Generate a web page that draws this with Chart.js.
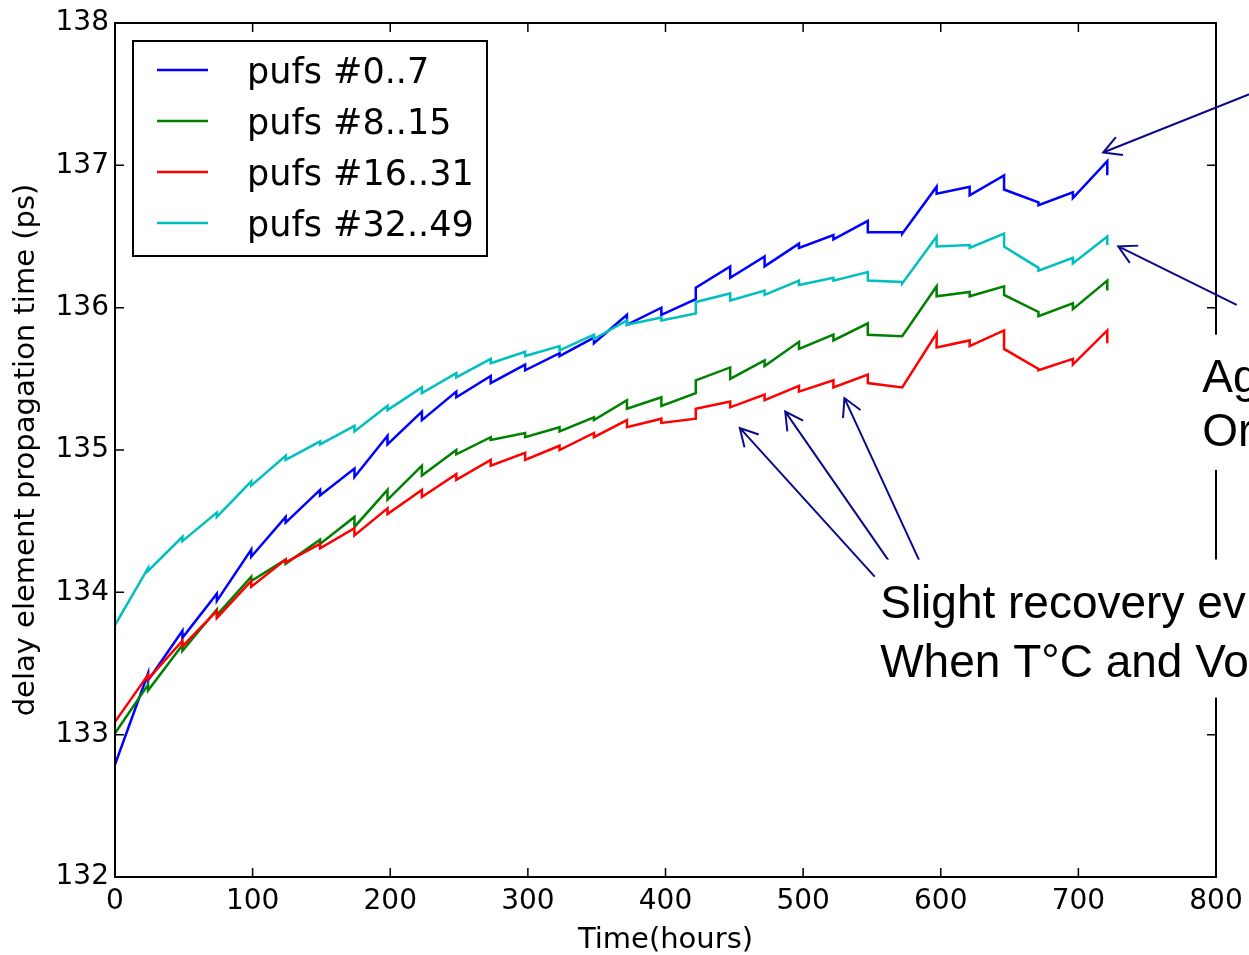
<!DOCTYPE html>
<html>
  <head>
    <title>Delay element ageing</title>
    <script src="https://cdn.jsdelivr.net/npm/chart.js@4.4.0/dist/chart.umd.min.js"></script>
    <style>
      body { margin: 0; background: #fff; }
      canvas { display: block; }
    </style>
  </head>
  <body>
    <canvas id="myChart" width="1249" height="955"></canvas>
    <script>
      // measurement times (hours); at each one the value drops slightly (recovery)
      const hours = [0, 24, 49, 74, 99, 124, 149, 174, 198, 223, 248, 273, 298, 323, 348, 372, 397, 422, 447, 472, 497, 522, 547, 572, 597, 621, 646, 671, 696, 721];

      const labels = ['pufs #0..7', 'pufs #8..15', 'pufs #16..31', 'pufs #32..49'];
      const colors = ['#0000ff', '#008000', '#ff0000', '#00bfbf'];

      // value reached just before each time, and value just after the step
      const pufs0Peak = [132.79, 133.43, 133.73, 133.99, 134.30, 134.53, 134.72, 134.87, 135.10, 135.27, 135.41, 135.52, 135.60, 135.68, 135.79, 135.95, 136.00, 136.06, 136.29, 136.36, 136.45, 136.51, 136.61, 136.53, 136.85, 136.85, 136.93, 136.74, 136.81, 137.03];
      const pufs0Drop = [132.79, 133.38, 133.68, 133.94, 134.25, 134.49, 134.68, 134.81, 135.04, 135.21, 135.37, 135.47, 135.56, 135.66, 135.75, 135.88, 135.95, 136.14, 136.21, 136.29, 136.42, 136.48, 136.53, 136.52, 136.80, 136.79, 136.83, 136.72, 136.77, 136.93];

      const pufs8Peak = [133.01, 133.35, 133.63, 133.88, 134.11, 134.23, 134.37, 134.53, 134.72, 134.89, 135.00, 135.09, 135.12, 135.16, 135.23, 135.35, 135.37, 135.40, 135.58, 135.63, 135.76, 135.81, 135.89, 135.80, 136.15, 136.11, 136.15, 135.97, 136.03, 136.19];
      const pufs8Drop = [133.01, 133.31, 133.59, 133.84, 134.08, 134.20, 134.34, 134.46, 134.65, 134.82, 134.97, 135.07, 135.09, 135.13, 135.21, 135.29, 135.31, 135.49, 135.50, 135.59, 135.71, 135.77, 135.81, 135.80, 136.08, 136.08, 136.09, 135.94, 135.99, 136.12];

      const pufs16Peak = [133.09, 133.42, 133.66, 133.87, 134.08, 134.23, 134.34, 134.45, 134.59, 134.72, 134.83, 134.93, 134.98, 135.03, 135.12, 135.21, 135.22, 135.22, 135.34, 135.39, 135.45, 135.49, 135.53, 135.44, 135.82, 135.77, 135.84, 135.57, 135.64, 135.84];
      const pufs16Drop = [133.09, 133.39, 133.62, 133.82, 134.04, 134.21, 134.31, 134.40, 134.55, 134.67, 134.79, 134.89, 134.93, 135.00, 135.09, 135.16, 135.19, 135.29, 135.30, 135.35, 135.41, 135.44, 135.47, 135.44, 135.72, 135.73, 135.71, 135.56, 135.60, 135.75];

      const pufs32Peak = [133.77, 134.17, 134.39, 134.56, 134.78, 134.96, 135.06, 135.17, 135.31, 135.44, 135.54, 135.64, 135.69, 135.73, 135.81, 135.91, 135.93, 135.96, 136.10, 136.12, 136.19, 136.21, 136.25, 136.18, 136.50, 136.44, 136.52, 136.28, 136.35, 136.50];
      const pufs32Drop = [133.77, 134.15, 134.36, 134.53, 134.75, 134.93, 135.04, 135.13, 135.28, 135.40, 135.51, 135.61, 135.66, 135.70, 135.78, 135.88, 135.91, 136.04, 136.05, 136.09, 136.16, 136.19, 136.19, 136.17, 136.43, 136.42, 136.43, 136.26, 136.31, 136.44];

      const peaks = [pufs0Peak, pufs8Peak, pufs16Peak, pufs32Peak];
      const drops = [pufs0Drop, pufs8Drop, pufs16Drop, pufs32Drop];

      // annotation arrows, in data units (hours, ps)
      const arrowFromX = [832, 815, 552, 563, 585];
      const arrowFromY = [137.53, 136.02, 134.11, 134.21, 134.21];
      const arrowToX = [718, 729, 454, 487, 530];
      const arrowToY = [137.09, 136.43, 135.155, 135.27, 135.365];

      // text notes (clipped at the right edge like the original slide)
      const noteLines = [['Ag', 'Or'], ['Slight recovery ev', 'When T\u00b0C and Vo']];
      const noteX = [790, 556];
      const noteY = [[135.41, 135.03], [133.82, 133.405]];
      const noteBoxLeft = [783, 553.8];
      const noteBoxTop = [135.81, 134.23];
      const noteBoxBottom = [134.86, 133.26];

      const makePoints = (peak, drop) => {
        const pts = [];
        hours.forEach((h, i) => {
          pts.push({x: h, y: peak[i]});
          pts.push({x: h, y: drop[i]});
        });
        return pts;
      };

      const arrow = (ctx, x0, y0, x1, y1) => {
        const ang = Math.atan2(y0 - y1, x0 - x1);
        ctx.beginPath();
        ctx.moveTo(x0, y0);
        ctx.lineTo(x1, y1);
        ctx.moveTo(x1 + 20 * Math.cos(ang - 0.5), y1 + 20 * Math.sin(ang - 0.5));
        ctx.lineTo(x1, y1);
        ctx.lineTo(x1 + 20 * Math.cos(ang + 0.5), y1 + 20 * Math.sin(ang + 0.5));
        ctx.stroke();
      };

      const overlay = {
        id: 'overlay',
        afterDraw(chart) {
          const {ctx, chartArea: a, scales: {x, y}} = chart;
          ctx.save();

          // inward tick marks on all four sides
          ctx.strokeStyle = '#000';
          ctx.lineWidth = 1.5;
          ctx.beginPath();
          x.ticks.forEach(t => {
            const px = x.getPixelForValue(t.value);
            ctx.moveTo(px, a.bottom); ctx.lineTo(px, a.bottom - 9);
            ctx.moveTo(px, a.top); ctx.lineTo(px, a.top + 9);
          });
          y.ticks.forEach(t => {
            const py = y.getPixelForValue(t.value);
            ctx.moveTo(a.left, py); ctx.lineTo(a.left + 9, py);
            ctx.moveTo(a.right, py); ctx.lineTo(a.right - 9, py);
          });
          ctx.stroke();

          // frame
          ctx.lineWidth = 2;
          ctx.strokeRect(a.left, a.top, a.right - a.left, a.bottom - a.top);

          // legend
          const lx = a.left + 18, ly = a.top + 18;
          ctx.fillStyle = '#fff';
          ctx.fillRect(lx, ly, 354, 215);
          ctx.strokeRect(lx, ly, 354, 215);
          ctx.font = '35px "DejaVu Sans"';
          ctx.textBaseline = 'alphabetic';
          labels.forEach((lab, i) => {
            const yy = ly + 29 + i * 51;
            ctx.strokeStyle = colors[i];
            ctx.lineWidth = 2.5;
            ctx.beginPath();
            ctx.moveTo(lx + 24, yy); ctx.lineTo(lx + 75, yy);
            ctx.stroke();
            ctx.fillStyle = '#000';
            ctx.fillText(lab, lx + 114, yy + 12.5);
          });

          // arrows
          ctx.strokeStyle = '#0a0a8a';
          ctx.lineWidth = 2;
          arrowFromX.forEach((v, i) => {
            arrow(ctx, x.getPixelForValue(v), y.getPixelForValue(arrowFromY[i]),
              x.getPixelForValue(arrowToX[i]), y.getPixelForValue(arrowToY[i]));
          });

          // notes on white boxes
          ctx.font = '46px "Liberation Sans"';
          noteLines.forEach((lines, i) => {
            const bx = x.getPixelForValue(noteBoxLeft[i]);
            const by = y.getPixelForValue(noteBoxTop[i]);
            const bb = y.getPixelForValue(noteBoxBottom[i]);
            ctx.fillStyle = '#fff';
            ctx.fillRect(bx, by, chart.width - bx, bb - by);
            ctx.fillStyle = '#000';
            lines.forEach((txt, j) => {
              ctx.fillText(txt, x.getPixelForValue(noteX[i]), y.getPixelForValue(noteY[i][j]));
            });
          });

          ctx.restore();
        }
      };

      Chart.defaults.font.family = '"DejaVu Sans"';
      Chart.defaults.color = '#000';

      const ctx = document.getElementById('myChart').getContext('2d');
      const myChart = new Chart(ctx, {
        type: 'line',
        data: {
          datasets: labels.map((lab, i) => ({
            label: lab,
            data: makePoints(peaks[i], drops[i]),
            borderColor: colors[i],
            borderWidth: 2.5,
            pointRadius: 0,
            tension: 0,
            fill: false,
            order: 4 - i
          }))
        },
        options: {
          responsive: false,
          animation: false,
          devicePixelRatio: 1,
          layout: { padding: { top: 23, right: 33, left: 0, bottom: 0 } },
          plugins: { legend: { display: false }, tooltip: { enabled: false } },
          scales: {
            x: {
              type: 'linear',
              min: 0,
              max: 800,
              grid: { display: false, drawTicks: false },
              border: { display: false },
              ticks: { stepSize: 100, padding: 8, font: { size: 28 } },
              title: { display: true, text: 'Time(hours)', font: { size: 29, lineHeight: 1 }, padding: { top: 0, bottom: 0 } },
              afterFit: s => { s.height = 78; s.paddingLeft = 0; s.paddingRight = 0; }
            },
            y: {
              min: 132,
              max: 138,
              grid: { display: false, drawTicks: false },
              border: { display: false },
              ticks: { stepSize: 1, padding: 6, font: { size: 28 } },
              title: { display: true, text: 'delay element propagation time (ps)', font: { size: 29, lineHeight: 1 }, padding: { top: 12, bottom: 0 } },
              afterFit: s => { s.width = 115; s.paddingTop = 0; s.paddingBottom = 0; }
            }
          }
        },
        plugins: [overlay]
      });
    </script>
  </body>
</html>
